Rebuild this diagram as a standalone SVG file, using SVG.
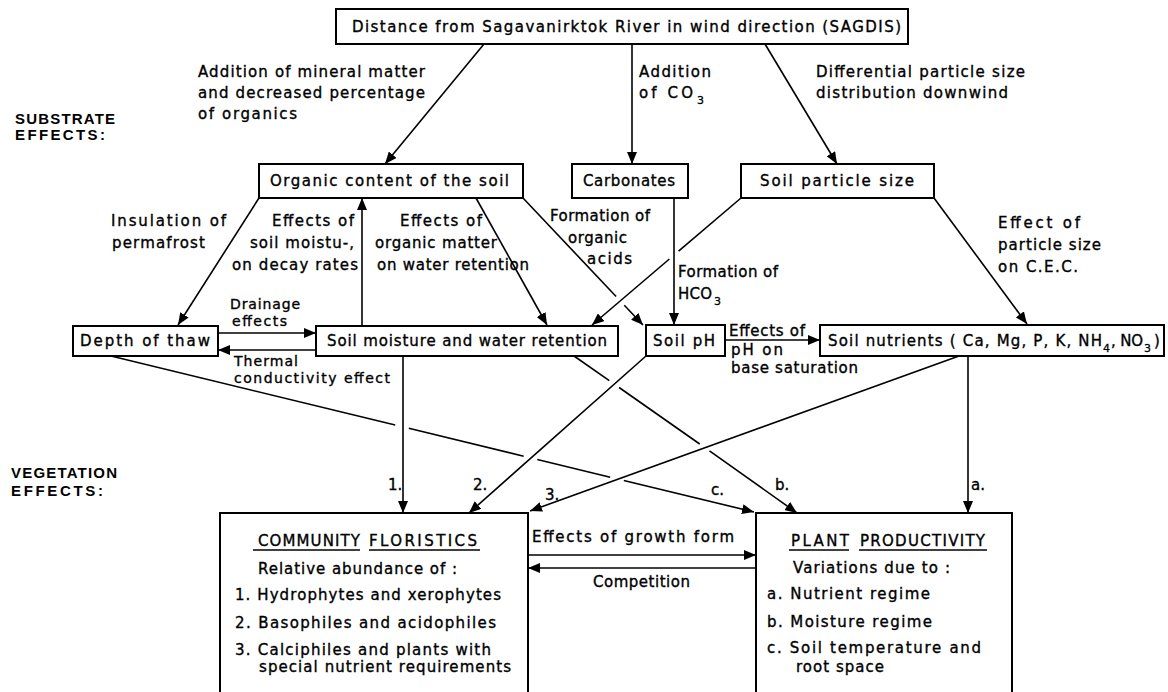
<svg xmlns="http://www.w3.org/2000/svg" width="1168" height="692" viewBox="0 0 1168 692">
<defs>
<marker id="ah" markerUnits="userSpaceOnUse" markerWidth="13" markerHeight="10" refX="12" refY="5" orient="auto">
<path d="M0,0 L12,5 L0,10 z" fill="#000"/>
</marker>
<style>
.box{fill:#fff;stroke:#000;stroke-width:2}
.t{font-family:"DejaVu Sans","Liberation Sans",sans-serif;font-size:15px;fill:#000;stroke:#000;stroke-width:0.35}
.s{font-family:"DejaVu Sans","Liberation Sans",sans-serif;font-size:11px;fill:#000;stroke:#000;stroke-width:0.3}
.h{font-family:"Liberation Sans",Arial,sans-serif;font-size:15px;font-weight:bold;fill:#000}
.c{stroke:#000;stroke-width:1.6;fill:none}
.a{marker-end:url(#ah)}
.u{stroke:#000;stroke-width:1.5}
</style>
</defs>
<rect width="1168" height="692" fill="#fff"/>

<g id="connectors">
<line class="c a" x1="484" y1="44" x2="385" y2="164"/>
<line class="c a" x1="632" y1="44" x2="632" y2="164"/>
<line class="c a" x1="765" y1="44" x2="837" y2="164"/>
<line class="c a" x1="259" y1="198" x2="178" y2="325"/>
<line class="c a" x1="362" y1="326" x2="362" y2="198"/>
<line class="c a" x1="476" y1="198" x2="547" y2="325"/>
<line class="c" x1="523" y1="198" x2="616.1" y2="296.5"/>
<line class="c a" x1="624.3" y1="305.3" x2="643" y2="325"/>
<line class="c a" x1="674" y1="198" x2="674" y2="325"/>
<line class="c" x1="741" y1="198" x2="678.6" y2="251.2"/>
<line class="c a" x1="669.4" y1="259" x2="592" y2="325"/>
<line class="c a" x1="934" y1="198" x2="1027" y2="324"/>
<line class="c a" x1="218" y1="333" x2="316" y2="333"/>
<line class="c a" x1="316" y1="350" x2="218" y2="350"/>
<line class="c a" x1="725" y1="340" x2="820" y2="340"/>
<line class="c a" x1="403" y1="356" x2="403" y2="513"/>
<line class="c a" x1="646" y1="356" x2="469" y2="513"/>
<line class="c a" x1="959" y1="356" x2="530" y2="511"/>
<line class="c a" x1="968" y1="356" x2="968" y2="513"/>
<line class="c" x1="574" y1="356" x2="609.3" y2="380.7"/>
<line class="c" x1="619.1" y1="387.5" x2="699.7" y2="444"/>
<line class="c a" x1="709.5" y1="450.8" x2="797" y2="513"/>
<line class="c" x1="111" y1="356" x2="395.2" y2="425"/>
<line class="c" x1="408.8" y1="428.3" x2="523.7" y2="456.2"/>
<line class="c" x1="537.3" y1="459.5" x2="610.2" y2="477.2"/>
<line class="c a" x1="623.8" y1="480.5" x2="754" y2="512"/>
<line class="c a" x1="528" y1="555" x2="756" y2="555"/>
<line class="c a" x1="756" y1="568" x2="528" y2="568"/>
</g>

<g id="labels">
<text class="h" x="15" y="124" textLength="100">SUBSTRATE</text>
<text class="h" x="15" y="140" textLength="90">EFFECTS:</text>
<text class="h" x="11" y="478" textLength="106">VEGETATION</text>
<text class="h" x="11" y="496" textLength="92">EFFECTS:</text>
<text class="t" x="198" y="77" textLength="227">Addition of mineral matter</text>
<text class="t" x="198" y="98" textLength="227">and decreased percentage</text>
<text class="t" x="198" y="119" textLength="99">of organics</text>
<text class="t" x="639" y="77" textLength="72">Addition</text>
<text class="t" x="639" y="98" textLength="54">of CO</text>
<text class="s" x="697" y="104">3</text>
<text class="t" x="816" y="77" textLength="209">Differential particle size</text>
<text class="t" x="816" y="98" textLength="192">distribution downwind</text>
<text class="t" x="111" y="226" textLength="115">Insulation of</text>
<text class="t" x="112" y="248" textLength="93">permafrost</text>
<text class="t" x="272" y="226" textLength="82">Effects of</text>
<text class="t" x="250" y="248" textLength="104">soil moistu-,</text>
<text class="t" x="232" y="270" textLength="126">on decay rates</text>
<text class="t" x="400" y="226" textLength="82">Effects of</text>
<text class="t" x="375" y="248" textLength="122">organic matter</text>
<text class="t" x="377" y="270" textLength="152">on water retention</text>
<text class="t" x="550" y="221" textLength="100">Formation of</text>
<text class="t" x="568" y="243" textLength="59">organic</text>
<text class="t" x="587" y="264" textLength="45">acids</text>
<text class="t" x="998" y="228" textLength="82">Effect of</text>
<text class="t" x="998" y="250" textLength="103">particle size</text>
<text class="t" x="998" y="272" textLength="80">on C.E.C.</text>
<text class="t" x="678" y="277" textLength="100">Formation of</text>
<text class="t" x="678" y="299" textLength="34">HCO</text>
<text class="s" x="714" y="305">3</text>
<text class="t" x="230" y="309" textLength="70" style="font-size:14px">Drainage</text>
<text class="t" x="232" y="326" textLength="55" style="font-size:14px">effects</text>
<text class="t" x="234" y="366" textLength="64" style="font-size:14px">Thermal</text>
<text class="t" x="234" y="383" textLength="156" style="font-size:14px">conductivity effect</text>
<text class="t" x="729" y="336" textLength="76">Effects of</text>
<text class="t" x="731" y="355" textLength="52">pH on</text>
<text class="t" x="731" y="373" textLength="127">base saturation</text>
<text class="t" x="388" y="490">1.</text>
<text class="t" x="473" y="490">2.</text>
<text class="t" x="545" y="500">3.</text>
<text class="t" x="711" y="495">c.</text>
<text class="t" x="775" y="490">b.</text>
<text class="t" x="971" y="490">a.</text>
<text class="t" x="532" y="542" textLength="202">Effects of growth form</text>
<text class="t" x="593" y="587" textLength="97">Competition</text>
</g>

<g id="node-sagdis">
<rect class="box" x="336" y="9" width="572" height="35"/>
<text class="t" x="352" y="32" textLength="549">Distance from Sagavanirktok River in wind direction (SAGDIS)</text>
</g>
<g id="node-organic">
<rect class="box" x="259" y="164" width="264" height="34"/>
<text class="t" x="270" y="186" textLength="239">Organic content of the soil</text>
</g>
<g id="node-carbonates">
<rect class="box" x="572" y="164" width="116" height="34"/>
<text class="t" x="583" y="186" textLength="92">Carbonates</text>
</g>
<g id="node-particle">
<rect class="box" x="741" y="164" width="193" height="34"/>
<text class="t" x="760" y="186" textLength="154">Soil particle size</text>
</g>
<g id="node-thaw">
<rect class="box" x="73" y="326" width="145" height="30"/>
<text class="t" x="80" y="346" textLength="130">Depth of thaw</text>
</g>
<g id="node-moisture">
<rect class="box" x="316" y="326" width="302" height="30"/>
<text class="t" x="327" y="346" textLength="280">Soil moisture and water retention</text>
</g>
<g id="node-ph">
<rect class="box" x="646" y="325" width="79" height="31"/>
<text class="t" x="653" y="346" textLength="62">Soil pH</text>
</g>
<g id="node-nutrients">
<rect class="box" x="820" y="325" width="344" height="31"/>
<text class="t" x="828" y="346" textLength="274">Soil nutrients ( Ca, Mg, P, K, NH</text>
<text class="s" x="1103" y="352">4</text>
<text class="t" x="1111" y="346" textLength="32">, NO</text>
<text class="s" x="1144" y="352">3</text>
<text class="t" x="1154" y="346">)</text>
</g>
<g id="node-floristics">
<rect class="box" x="220" y="513" width="308" height="200"/>
<text class="t" x="258" y="546" textLength="102">COMMUNITY</text>
<text class="t" x="369" y="546" textLength="108">FLORISTICS</text>
<line class="u" x1="253" y1="550" x2="360" y2="550"/>
<line class="u" x1="369" y1="550" x2="480" y2="550"/>
<text class="t" x="258" y="574" textLength="199">Relative abundance of :</text>
<text class="t" x="235" y="600" textLength="266">1. Hydrophytes and xerophytes</text>
<text class="t" x="235" y="628" textLength="261">2. Basophiles and acidophiles</text>
<text class="t" x="235" y="655" textLength="256">3. Calciphiles and plants with</text>
<text class="t" x="259" y="672" textLength="252">special nutrient requirements</text>
</g>
<g id="node-productivity">
<rect class="box" x="756" y="513" width="256" height="200"/>
<text class="t" x="791" y="546" textLength="58">PLANT</text>
<text class="t" x="860" y="546" textLength="125">PRODUCTIVITY</text>
<line class="u" x1="789" y1="550" x2="849" y2="550"/>
<line class="u" x1="859" y1="550" x2="987" y2="550"/>
<text class="t" x="793" y="573" textLength="157">Variations due to :</text>
<text class="t" x="767" y="599" textLength="163">a. Nutrient regime</text>
<text class="t" x="767" y="627" textLength="165">b. Moisture regime</text>
<text class="t" x="767" y="653" textLength="214">c. Soil temperature and</text>
<text class="t" x="796" y="672" textLength="88">root space</text>
</g>
</svg>
